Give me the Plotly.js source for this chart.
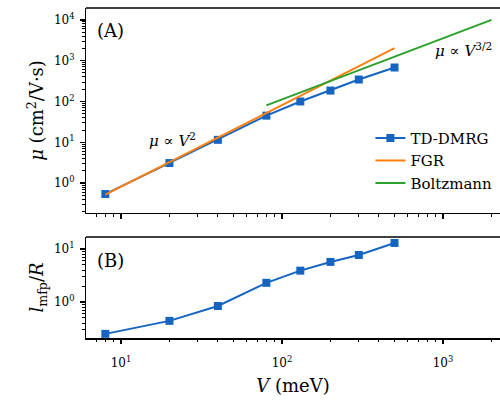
<!DOCTYPE html>
<html>
<head>
<meta charset="utf-8">
<script src="https://cdn.plot.ly/plotly-3.0.1.min.js"></script>
<style>html,body{margin:0;padding:0;background:#fff;overflow:hidden}</style>
</head>
<body>
<div id="chart" style="width:500px;height:400px"></div>
<script>
// ---- data ----
const V = [8, 20, 40, 80, 130, 200, 300, 500];
const muDMRG = [0.54, 3.1, 11.5, 45, 100, 185, 345, 680];
const muFGR = [0.52, 3.24, 13, 52, 137, 324, 729, 2025];
const V_boltz = [80, 2000];
const muBoltz = [80, 10000];
const lmfpR = [0.25, 0.44, 0.84, 2.3, 3.9, 5.7, 7.7, 13];

const xTickVals = [10, 100, 1000];
const xTickText = ['10<sup>1</sup>', '10<sup>2</sup>', '10<sup>3</sup>'];
const yTopTickVals = [1, 10, 100, 1000, 10000];
const yTopTickText = ['10<sup>0</sup>', '10<sup>1</sup>', '10<sup>2</sup>', '10<sup>3</sup>', '10<sup>4</sup>'];
const yBotTickVals = [1, 10];
const yBotTickText = ['10<sup>0</sup>', '10<sup>1</sup>'];

const blue = '#1565c0', orange = '#ff7f0e', green = '#2ca02c';
const serif = 'DejaVu Serif';

const traces = [
  {x: V, y: muDMRG, xaxis: 'x2', yaxis: 'y2', name: 'TD-DMRG', mode: 'lines+markers',
   line: {color: blue, width: 2}, marker: {symbol: 'square', size: 8, color: blue}},
  {x: V, y: muFGR, xaxis: 'x2', yaxis: 'y2', name: 'FGR', mode: 'lines',
   line: {color: orange, width: 2}},
  {x: V_boltz, y: muBoltz, xaxis: 'x2', yaxis: 'y2', name: 'Boltzmann', mode: 'lines',
   line: {color: green, width: 2}},
  {x: V, y: lmfpR, xaxis: 'x', yaxis: 'y', name: 'lmfp', mode: 'lines+markers', showlegend: false,
   line: {color: blue, width: 2}, marker: {symbol: 'square', size: 8, color: blue}}
];

const minorTicks = {ticks: 'outside', ticklen: 2.5, tickwidth: 1, tickcolor: '#000', dtick: 'D1', showgrid: false};
const common = {
  type: 'log', showline: true, linecolor: '#000', linewidth: 1.5, mirror: false,
  ticks: 'outside', ticklen: 4.5, tickwidth: 1.5, tickcolor: '#000',
  showgrid: false, zeroline: false, tickmode: 'array',
  tickfont: {family: serif, size: 12, color: '#000'},
  minor: minorTicks
};
const xrange = [0.783, 3.354];
const titleFont = {family: serif, size: 18, color: '#000'};

const layout = {
  width: 500, height: 400,
  margin: {l: 86, r: 0, t: 8, b: 62},
  paper_bgcolor: '#fff', plot_bgcolor: '#fff',
  showlegend: true,
  legend: {x: 0.687, y: 0.655, xanchor: 'left', yanchor: 'top', bgcolor: 'rgba(0,0,0,0)',
           font: {family: serif, size: 15, color: '#000'}, tracegroupgap: 0},
  xaxis: Object.assign({}, common, {domain: [0, 1], range: xrange, anchor: 'y',
    tickvals: xTickVals, ticktext: xTickText, ticklabelstandoff: 9,
    title: {text: '<i>V</i> (meV)', font: titleFont, standoff: 10}}),
  yaxis: Object.assign({}, common, {domain: [0, 0.306], range: [-0.68, 1.226], anchor: 'x',
    tickvals: yBotTickVals, ticktext: yBotTickText, ticklabelstandoff: 3,
    title: {text: '<i>l</i><sub>mfp</sub>/<i>R</i>', font: titleFont, standoff: 5}}),
  xaxis2: Object.assign({}, common, {domain: [0, 1], range: xrange, anchor: 'y2',
    tickvals: xTickVals, ticktext: xTickText, showticklabels: false}),
  yaxis2: Object.assign({}, common, {domain: [0.379, 1], range: [-0.73, 4.29], anchor: 'x2',
    tickvals: yTopTickVals, ticktext: yTopTickText, ticklabelstandoff: 3,
    title: {text: '<i>μ</i> (cm<sup>2</sup>/V·s)', font: titleFont, standoff: 5}}),
  shapes: [
    {type: 'line', xref: 'x domain', yref: 'y2 domain', x0: 0, x1: 1, y0: 1, y1: 1, line: {color: '#000', width: 1.5}},
    {type: 'line', xref: 'x domain', yref: 'y domain', x0: 0, x1: 1, y0: 1, y1: 1, line: {color: '#000', width: 1.5}}
  ],
  annotations: [
    {text: '(A)', xref: 'paper', yref: 'paper', x: 0.060, y: 0.933, xanchor: 'center', yanchor: 'middle',
     showarrow: false, font: {family: serif, size: 18, color: '#000'}},
    {text: '(B)', xref: 'paper', yref: 'paper', x: 0.060, y: 0.236, xanchor: 'center', yanchor: 'middle',
     showarrow: false, font: {family: serif, size: 18, color: '#000'}},
    {text: '<i>μ</i> ∝ <i>V</i><sup>2</sup>', xref: 'paper', yref: 'paper', x: 0.210, y: 0.600,
     xanchor: 'center', yanchor: 'middle', showarrow: false, font: {family: serif, size: 15, color: '#000'}},
    {text: '<i>μ</i> ∝ <i>V</i><sup>3/2</sup>', xref: 'paper', yref: 'paper', x: 0.911, y: 0.872,
     xanchor: 'center', yanchor: 'middle', showarrow: false, font: {family: serif, size: 15, color: '#000'}}
  ]
};

Plotly.newPlot('chart', traces, layout, {displayModeBar: false, staticPlot: true});
</script>
</body>
</html>
